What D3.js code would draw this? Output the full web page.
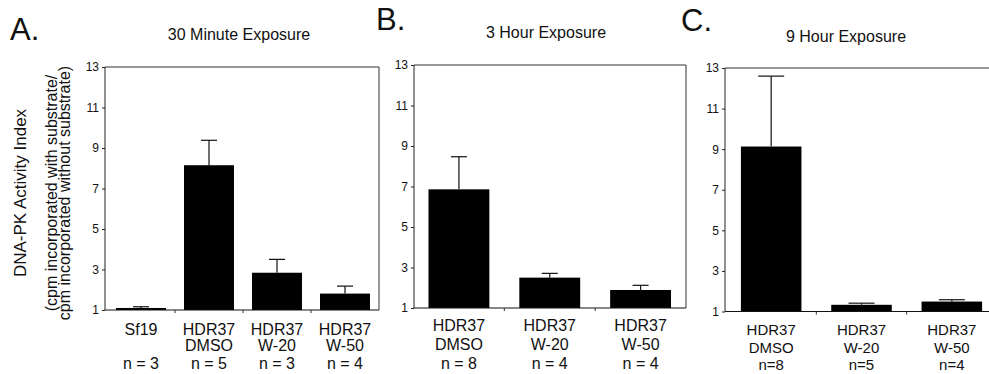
<!DOCTYPE html>
<html>
<head>
<meta charset="utf-8">
<script src="https://cdn.jsdelivr.net/npm/d3@7"></script>
<style>
  body { margin: 0; background: #fff; }
  svg { display: block; font-family: Arial, "Liberation Sans", Helvetica, sans-serif; }
  .tick text { font-size: 12px; fill: #111; }
  .tick line, .domain { stroke: #222; }
</style>
</head>
<body>
<div id="app"></div>
<script>
// panel letters and titles
const letters = ["A.", "B.", "C."];
const titles = ["30 Minute Exposure", "3 Hour Exposure", "9 Hour Exposure"];
const yTicks = [1, 3, 5, 7, 9, 11, 13];

// A: 30 minute
const groupsA = [["Sf19"], ["HDR37", "DMSO"], ["HDR37", "W-20"], ["HDR37", "W-50"]];
const nA = ["n = 3", "n = 5", "n = 3", "n = 4"];
const meanA = [1.1, 8.15, 2.84, 1.81];
const semA = [0.06, 1.23, 0.66, 0.37];

// B: 3 hour
const groupsB = [["HDR37", "DMSO"], ["HDR37", "W-20"], ["HDR37", "W-50"]];
const nB = ["n = 8", "n = 4", "n = 4"];
const meanB = [6.86, 2.5, 1.89];
const semB = [1.61, 0.21, 0.23];

// C: 9 hour
const groupsC = [["HDR37", "DMSO"], ["HDR37", "W-20"], ["HDR37", "W-50"]];
const nC = ["n=8", "n=5", "n=4"];
const meanC = [9.13, 1.33, 1.49];
const semC = [3.47, 0.08, 0.09];

const width = 989;
const height = 374;

const svg = d3.select("#app").append("svg")
  .attr("width", width)
  .attr("height", height);

// layout for each panel
const layout = [
  { groups: groupsA, n: nA, mean: meanA, sem: semA,
    axisX: 105, x0: 107, x1: 379, top: 67, bottom: 310, pad: 0.265, cap: 16,
    letter: [10, 40], title: [239, 40], lines: [335, 351, 369], fs: 16 },
  { groups: groupsB, n: nB, mean: meanB, sem: semB,
    axisX: 414, x0: 413.5, x1: 686, top: 65, bottom: 308, pad: 0.33, cap: 16,
    letter: [376, 30], title: [546, 38], lines: [331, 350, 369], fs: 16 },
  { groups: groupsC, n: nC, mean: meanC, sem: semC,
    axisX: 725, x0: 726, x1: 997, top: 68, bottom: 311.5, pad: 0.33, cap: 26,
    letter: [681, 31], title: [846, 42], lines: [335, 352.5, 370], fs: 15 }
];

layout.forEach((p, i) => {
  const g = svg.append("g");
  const idx = d3.range(p.mean.length);

  const x = d3.scaleBand()
    .domain(idx)
    .range([p.x0, p.x1])
    .paddingInner(p.pad)
    .paddingOuter(p.pad / 2);

  const y = d3.scaleLinear()
    .domain([1, 13])
    .range([p.bottom, p.top]);

  // panel letter + title
  g.append("text")
    .attr("x", p.letter[0])
    .attr("y", p.letter[1])
    .style("font-size", "31px")
    .attr("fill", "#111")
    .text(letters[i]);

  g.append("text")
    .attr("x", p.title[0])
    .attr("y", p.title[1])
    .attr("text-anchor", "middle")
    .style("font-size", "16px")
    .attr("fill", "#111")
    .text(titles[i]);

  // frame (top and right)
  g.append("path")
    .attr("d", `M${p.axisX},${p.top}H${p.x1}V${p.bottom}`)
    .attr("fill", "none")
    .attr("stroke", "#333");

  // bars
  g.selectAll("rect.bar")
    .data(idx)
    .join("rect")
    .attr("class", "bar")
    .attr("x", (d) => x(d))
    .attr("width", x.bandwidth())
    .attr("y", (d) => y(p.mean[d]))
    .attr("height", (d) => y(1) - y(p.mean[d]))
    .attr("fill", "#000");

  // error bars (upper only)
  const err = g.selectAll("g.err")
    .data(idx)
    .join("g")
    .attr("class", "err")
    .attr("stroke", "#111")
    .attr("stroke-width", 1.2);

  err.append("line")
    .attr("x1", (d) => x(d) + x.bandwidth() / 2)
    .attr("x2", (d) => x(d) + x.bandwidth() / 2)
    .attr("y1", (d) => y(p.mean[d]))
    .attr("y2", (d) => y(p.mean[d] + p.sem[d]));

  err.append("line")
    .attr("x1", (d) => x(d) + x.bandwidth() / 2 - p.cap / 2)
    .attr("x2", (d) => x(d) + x.bandwidth() / 2 + p.cap / 2)
    .attr("y1", (d) => y(p.mean[d] + p.sem[d]))
    .attr("y2", (d) => y(p.mean[d] + p.sem[d]));

  // y axis
  g.append("g")
    .attr("transform", `translate(${p.axisX},0)`)
    .call(d3.axisLeft(y).tickValues(yTicks).tickSize(3).tickPadding(3))
    .call((a) => a.select(".domain").attr("d", `M0,${p.top}V${p.bottom}`));

  // x baseline with small ticks between bars
  g.append("line")
    .attr("x1", p.axisX)
    .attr("x2", p.x1)
    .attr("y1", p.bottom)
    .attr("y2", p.bottom)
    .attr("stroke", "#111")
    .attr("stroke-width", 1.2);

  g.selectAll("line.xt")
    .data(idx.slice(1))
    .join("line")
    .attr("class", "xt")
    .attr("x1", (d) => x(d) - x.step() * x.paddingInner() / 2)
    .attr("x2", (d) => x(d) - x.step() * x.paddingInner() / 2)
    .attr("y1", p.bottom)
    .attr("y2", p.bottom + 3)
    .attr("stroke", "#333");

  // category labels
  const lab = g.selectAll("text.cat")
    .data(idx)
    .join("text")
    .attr("class", "cat")
    .attr("text-anchor", "middle")
    .style("font-size", `${p.fs}px`)
    .attr("fill", "#111");

  lab.each(function (d) {
    const t = d3.select(this);
    const cx = x(d) + x.bandwidth() / 2;
    p.groups[d].forEach((s, k) => {
      t.append("tspan").attr("x", cx).attr("y", p.lines[k]).text(s);
    });
    t.append("tspan").attr("x", cx).attr("y", p.lines[2]).text(p.n[d]);
  });
});

// y axis title
const yTitle = svg.append("g")
  .attr("transform", "translate(0,193) rotate(-90)")
  .attr("text-anchor", "middle")
  .attr("fill", "#111")
  .style("font-size", "16px");

yTitle.append("text").attr("x", 0).attr("y", 26).style("font-size", "17px").text("DNA-PK Activity Index");
yTitle.append("text").attr("x", 0).attr("y", 57).text("(cpm incorporated with substrate/");
yTitle.append("text").attr("x", 0).attr("y", 70).text("cpm incorporated without substrate)");
</script>
</body>
</html>
